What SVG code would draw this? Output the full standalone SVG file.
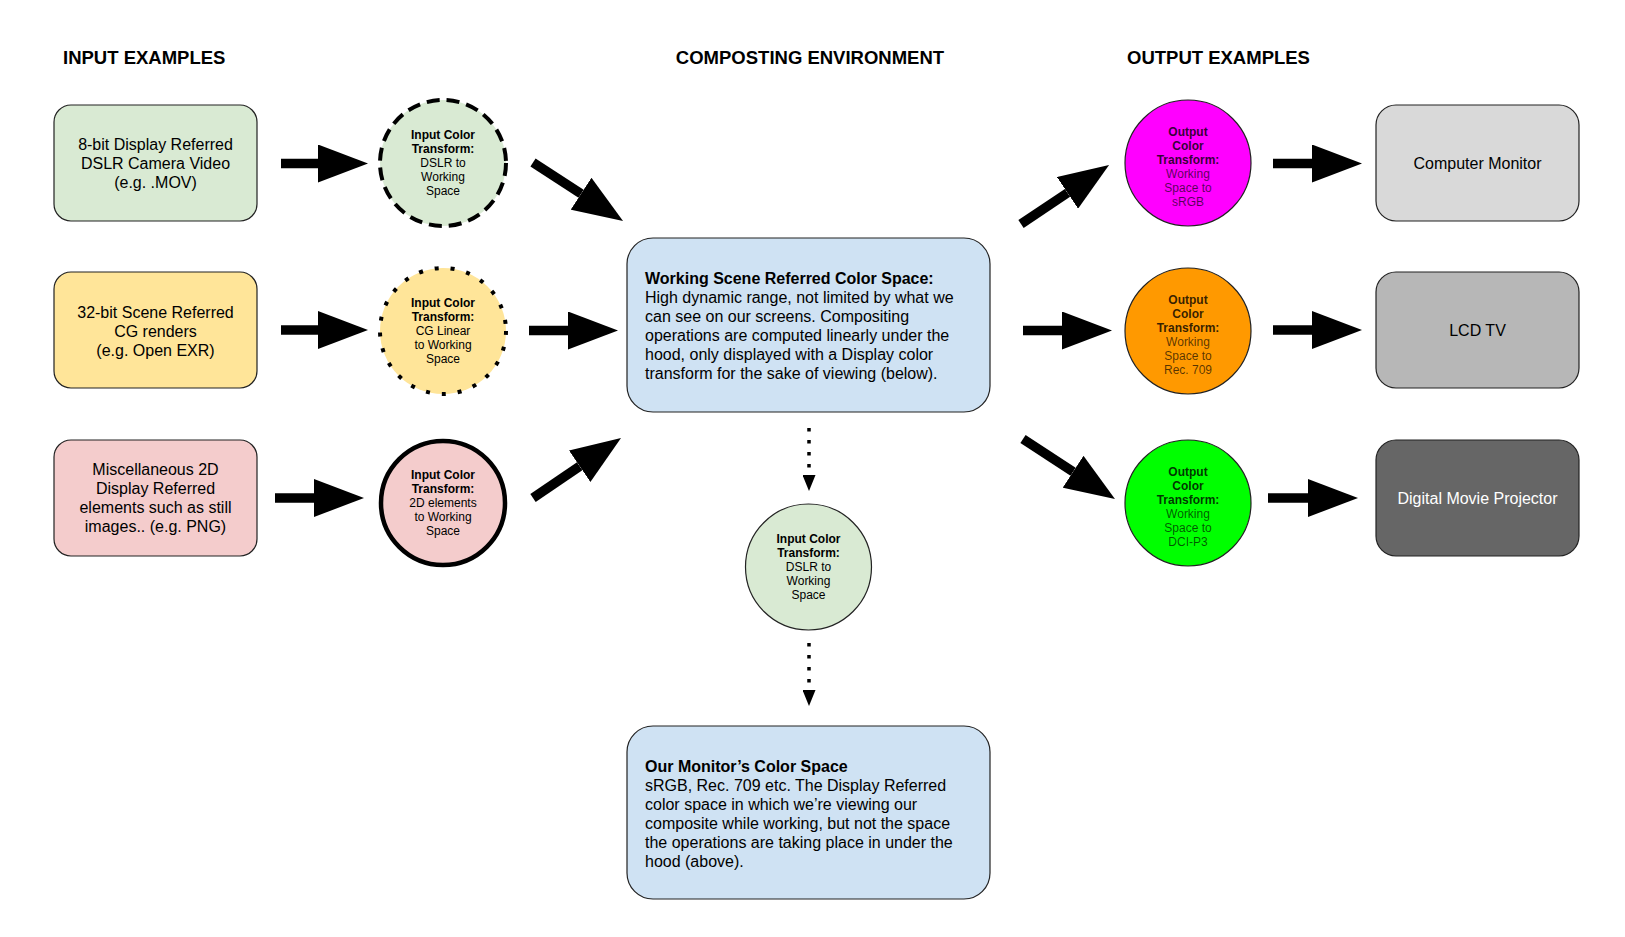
<svg xmlns="http://www.w3.org/2000/svg" width="1625" height="937" viewBox="0 0 1625 937">
<style>
  text { font-family: "Liberation Sans", Arial, sans-serif; fill: #000; }
  .hdr { font-size: 18.5px; font-weight: bold; }
  .box { stroke: #222; stroke-width: 1.2; }
  .bt { font-size: 16px; text-anchor: middle; }
  .ct { font-size: 12px; text-anchor: middle; }
  .b { font-weight: bold; }
  .lt { font-size: 16px; }
  .big { stroke: #000; stroke-width: 9.5; fill: none; }
  .dot { stroke: #000; stroke-width: 3.5; fill: none; stroke-dasharray: 3.5 8.5; }
  .oc { stroke: #222; stroke-width: 1.2; }
  .ob { font-weight: bold; fill-opacity: 0.8; }
  .or { fill-opacity: 0.66; }
</style>
<defs>
  <marker id="bigHead" markerUnits="userSpaceOnUse" markerWidth="50" markerHeight="38" viewBox="0 0 50 38" refX="0" refY="19" orient="auto">
    <path d="M0,0 L50,19 L0,38 Z" fill="#000"/>
  </marker>
  <marker id="smallHead" markerUnits="userSpaceOnUse" markerWidth="16" markerHeight="13" viewBox="0 0 16 13" refX="0" refY="6.5" orient="auto">
    <path d="M0,0 L16,6.5 L0,13 Z" fill="#000"/>
  </marker>
</defs>
<rect width="1625" height="937" fill="#fff"/>

<g id="headers">
  <text class="hdr" x="63" y="64">INPUT EXAMPLES</text>
  <text class="hdr" x="810" y="64" text-anchor="middle">COMPOSTING ENVIRONMENT</text>
  <text class="hdr" x="1127" y="64">OUTPUT EXAMPLES</text>
</g>

<g id="connectors">
  <line class="big" x1="281" y1="163.5" x2="318" y2="163.5" marker-end="url(#bigHead)"/>
  <line class="big" x1="281" y1="330" x2="318" y2="330" marker-end="url(#bigHead)"/>
  <line class="big" x1="275" y1="498" x2="314" y2="498" marker-end="url(#bigHead)"/>
  <line class="big" x1="533" y1="162.5" x2="581.1" y2="193.7" marker-end="url(#bigHead)"/>
  <line class="big" x1="529" y1="330.5" x2="568" y2="330.5" marker-end="url(#bigHead)"/>
  <line class="big" x1="533" y1="498" x2="579.7" y2="466.2" marker-end="url(#bigHead)"/>
  <line class="big" x1="1021" y1="224" x2="1067.5" y2="192.9" marker-end="url(#bigHead)"/>
  <line class="big" x1="1023" y1="330.5" x2="1062" y2="330.5" marker-end="url(#bigHead)"/>
  <line class="big" x1="1023" y1="439" x2="1073.1" y2="471.7" marker-end="url(#bigHead)"/>
  <line class="big" x1="1273" y1="163.5" x2="1312" y2="163.5" marker-end="url(#bigHead)"/>
  <line class="big" x1="1273" y1="330" x2="1312" y2="330" marker-end="url(#bigHead)"/>
  <line class="big" x1="1268" y1="498" x2="1308" y2="498" marker-end="url(#bigHead)"/>
  <line class="dot" x1="809" y1="428" x2="809" y2="475" marker-end="url(#smallHead)"/>
  <line class="dot" x1="809" y1="643" x2="809" y2="690" marker-end="url(#smallHead)"/>
</g>

<g id="in1">
  <rect class="box" x="54" y="105" width="203" height="116" rx="17" fill="#d9ead3"/>
  <text class="bt"><tspan x="155.5" y="150">8-bit Display Referred</tspan><tspan x="155.5" y="169">DSLR Camera Video</tspan><tspan x="155.5" y="188">(e.g. .MOV)</tspan></text>
</g>
<g id="in2">
  <rect class="box" x="54" y="272" width="203" height="116" rx="17" fill="#ffe599"/>
  <text class="bt"><tspan x="155.5" y="317.5">32-bit Scene Referred</tspan><tspan x="155.5" y="336.5">CG renders</tspan><tspan x="155.5" y="355.5">(e.g. Open EXR)</tspan></text>
</g>
<g id="in3">
  <rect class="box" x="54" y="440" width="203" height="116" rx="17" fill="#f4cccc"/>
  <text class="bt"><tspan x="155.5" y="475">Miscellaneous 2D</tspan><tspan x="155.5" y="494">Display Referred</tspan><tspan x="155.5" y="513">elements such as still</tspan><tspan x="155.5" y="532">images.. (e.g. PNG)</tspan></text>
</g>

<g id="ict1">
  <circle cx="443" cy="163" r="63" fill="#d9ead3" stroke="#000" stroke-width="4" stroke-dasharray="13 7"/>
  <text class="ct"><tspan class="b" x="443" y="139">Input Color</tspan><tspan class="b" x="443" y="153">Transform:</tspan><tspan x="443" y="167">DSLR to</tspan><tspan x="443" y="181">Working</tspan><tspan x="443" y="195">Space</tspan></text>
</g>
<g id="ict2">
  <circle cx="443" cy="331" r="63" fill="#ffe599" stroke="#000" stroke-width="4" stroke-dasharray="4 12"/>
  <text class="ct"><tspan class="b" x="443" y="307">Input Color</tspan><tspan class="b" x="443" y="321">Transform:</tspan><tspan x="443" y="335">CG Linear</tspan><tspan x="443" y="349">to Working</tspan><tspan x="443" y="363">Space</tspan></text>
</g>
<g id="ict3">
  <circle cx="443" cy="503" r="62" fill="#f4cccc" stroke="#000" stroke-width="4.5"/>
  <text class="ct"><tspan class="b" x="443" y="479">Input Color</tspan><tspan class="b" x="443" y="493">Transform:</tspan><tspan x="443" y="507">2D elements</tspan><tspan x="443" y="521">to Working</tspan><tspan x="443" y="535">Space</tspan></text>
</g>

<g id="working">
  <rect class="box" x="627" y="238" width="363" height="174" rx="26" fill="#cfe2f3"/>
  <text class="lt"><tspan class="b" x="645" y="284">Working Scene Referred Color Space:</tspan><tspan x="645" y="303">High dynamic range, not limited by what we</tspan><tspan x="645" y="322">can see on our screens. Compositing</tspan><tspan x="645" y="341">operations are computed linearly under the</tspan><tspan x="645" y="360">hood, only displayed with a Display color</tspan><tspan x="645" y="379">transform for the sake of viewing (below).</tspan></text>
</g>

<g id="ict4">
  <circle cx="808.5" cy="567" r="63" fill="#d9ead3" stroke="#222" stroke-width="1.2"/>
  <text class="ct"><tspan class="b" x="808.5" y="543">Input Color</tspan><tspan class="b" x="808.5" y="557">Transform:</tspan><tspan x="808.5" y="571">DSLR to</tspan><tspan x="808.5" y="585">Working</tspan><tspan x="808.5" y="599">Space</tspan></text>
</g>

<g id="monitor">
  <rect class="box" x="627" y="726" width="363" height="173" rx="26" fill="#cfe2f3"/>
  <text class="lt"><tspan class="b" x="645" y="772">Our Monitor’s Color Space</tspan><tspan x="645" y="791">sRGB, Rec. 709 etc. The Display Referred</tspan><tspan x="645" y="810">color space in which we’re viewing our</tspan><tspan x="645" y="829">composite while working, but not the space</tspan><tspan x="645" y="848">the operations are taking place in under the</tspan><tspan x="645" y="867">hood (above).</tspan></text>
</g>

<g id="oct1">
  <circle class="oc" cx="1188" cy="163" r="63" fill="#ff00ff"/>
  <text class="ct"><tspan class="ob" x="1188" y="135.5">Output</tspan><tspan class="ob" x="1188" y="149.5">Color</tspan><tspan class="ob" x="1188" y="163.5">Transform:</tspan><tspan class="or" x="1188" y="177.5">Working</tspan><tspan class="or" x="1188" y="191.5">Space to</tspan><tspan class="or" x="1188" y="205.5">sRGB</tspan></text>
</g>
<g id="oct2">
  <circle class="oc" cx="1188" cy="331" r="63" fill="#ff9900"/>
  <text class="ct"><tspan class="ob" x="1188" y="303.5">Output</tspan><tspan class="ob" x="1188" y="317.5">Color</tspan><tspan class="ob" x="1188" y="331.5">Transform:</tspan><tspan class="or" x="1188" y="345.5">Working</tspan><tspan class="or" x="1188" y="359.5">Space to</tspan><tspan class="or" x="1188" y="373.5">Rec. 709</tspan></text>
</g>
<g id="oct3">
  <circle class="oc" cx="1188" cy="503" r="63" fill="#00ff00"/>
  <text class="ct"><tspan class="ob" x="1188" y="475.5">Output</tspan><tspan class="ob" x="1188" y="489.5">Color</tspan><tspan class="ob" x="1188" y="503.5">Transform:</tspan><tspan class="or" x="1188" y="517.5">Working</tspan><tspan class="or" x="1188" y="531.5">Space to</tspan><tspan class="or" x="1188" y="545.5">DCI-P3</tspan></text>
</g>

<g id="out1">
  <rect class="box" x="1376" y="105" width="203" height="116" rx="20" fill="#d9d9d9"/>
  <text class="bt" x="1477.5" y="169">Computer Monitor</text>
</g>
<g id="out2">
  <rect class="box" x="1376" y="272" width="203" height="116" rx="20" fill="#b7b7b7"/>
  <text class="bt" x="1477.5" y="336">LCD TV</text>
</g>
<g id="out3">
  <rect class="box" x="1376" y="440" width="203" height="116" rx="20" fill="#666666"/>
  <text class="bt" x="1477.5" y="504" style="fill:#fff">Digital Movie Projector</text>
</g>
</svg>
